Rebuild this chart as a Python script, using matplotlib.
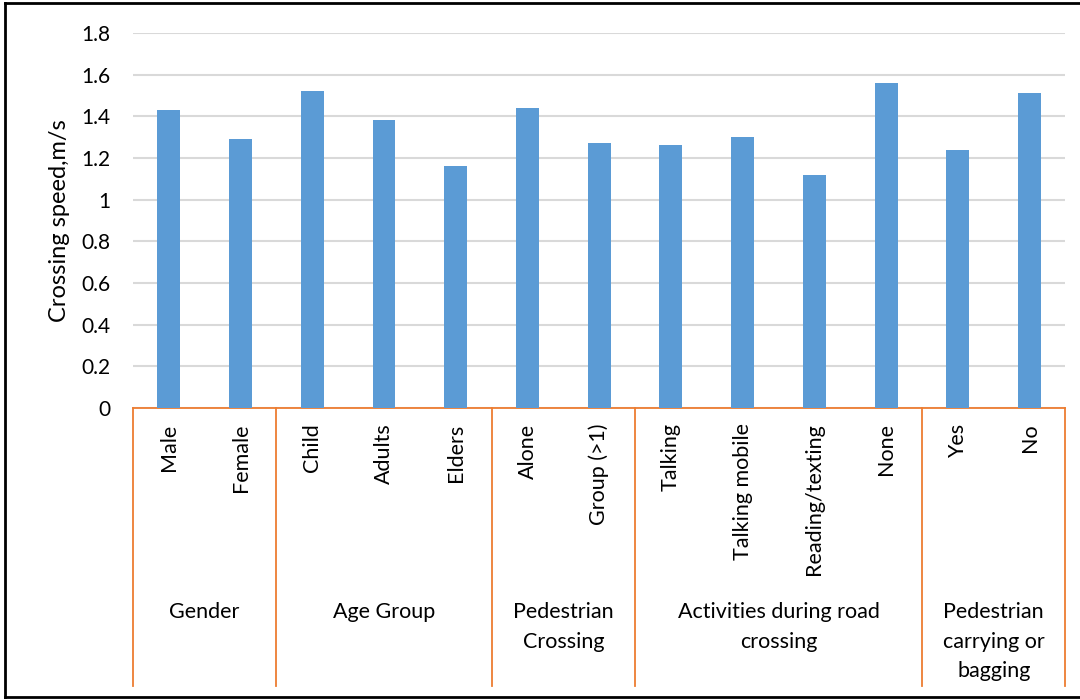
import numpy as np
import matplotlib.pyplot as plt
from matplotlib.lines import Line2D

plt.rcParams['font.family'] = ['Lato', 'DejaVu Sans']

categories = ['Male', 'Female', 'Child', 'Adults', 'Elders', 'Alone', 'Group (>1)',
              'Talking', 'Talking mobile', 'Reading/texting', 'None', 'Yes', 'No']
speeds = [1.43, 1.29, 1.52, 1.38, 1.16, 1.44, 1.27, 1.26, 1.30, 1.12, 1.56, 1.24, 1.51]
groups = ['Gender', 'Age Group', 'Pedestrian\nCrossing', 'Activities during road\ncrossing',
          'Pedestrian\ncarrying or\nbagging']
group_sizes = [2, 3, 2, 4, 2]

bar_color = '#5B9BD5'
axis_color = '#ED7D31'

fig = plt.figure(figsize=(10.8, 7), dpi=100)
ax = fig.add_axes([0.1231, 0.417, 0.8634, 0.536])

x = np.arange(len(categories))
ax.bar(x, speeds, width=0.32, color=bar_color, zorder=3)

ax.set_xlim(-0.5, len(categories) - 0.5)
ax.set_ylim(0, 1.8)
ax.set_yticks(np.arange(0, 1.81, 0.2))
ax.set_yticklabels(['0', '0.2', '0.4', '0.6', '0.8', '1', '1.2', '1.4', '1.6', '1.8'])
ax.yaxis.grid(True, color='#D9D9D9', linewidth=1.5, zorder=0)
ax.tick_params(axis='y', length=0, pad=16, labelsize=15)
ax.tick_params(axis='x', length=0, pad=11, labelsize=15.5)
ax.set_xticks(x)
ax.set_xticklabels(categories, rotation=90, va='top')
for s in ['top', 'right', 'left']:
    ax.spines[s].set_visible(False)
ax.spines['bottom'].set_color(axis_color)
ax.spines['bottom'].set_linewidth(1.3)
ax.set_ylabel('Crossing speed,m/s', fontsize=17, labelpad=8)

# group separators and labels
trans = ax.get_xaxis_transform()
edges = np.concatenate([[0], np.cumsum(group_sizes)]) - 0.5
for e in edges:
    ax.plot([e, e], [0, -0.741], color=axis_color, linewidth=1.3,
            transform=trans, clip_on=False)
for i, g in enumerate(groups):
    cx = (edges[i] + edges[i + 1]) / 2
    ax.text(cx, -0.517, g, transform=trans, ha='center', va='top',
            fontsize=15.5, linespacing=1.6)

# outer border
for xs, ys in [([0.005, 1.0], [0.996, 0.996]), ([0.005, 0.005], [0.004, 0.996]),
               ([0.005, 1.0], [0.004, 0.004])]:
    fig.add_artist(Line2D(xs, ys, color='black', linewidth=2, transform=fig.transFigure))

fig.savefig('out.png', dpi=100)
